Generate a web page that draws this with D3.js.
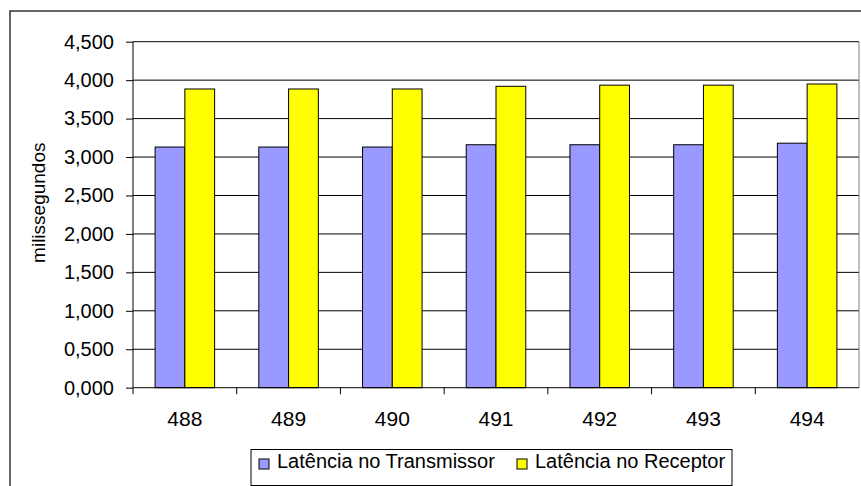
<!DOCTYPE html>
<html>
<head>
<meta charset="utf-8">
<script src="https://cdn.jsdelivr.net/npm/d3@7"></script>
<style>
  html, body { margin: 0; padding: 0; background: #fff; }
  svg { display: block; font-family: "Liberation Sans", Arial, sans-serif; }
</style>
</head>
<body>
<svg id="chart" width="861" height="486"></svg>
<script>
// Latência medida por pacote (milissegundos)
const categories = ["488", "489", "490", "491", "492", "493", "494"];
const seriesNames = ["Latência no Transmissor", "Latência no Receptor"];
const transmissor = [3.13, 3.13, 3.13, 3.16, 3.16, 3.16, 3.18];
const receptor = [3.885, 3.885, 3.885, 3.92, 3.935, 3.935, 3.95];
const yTicks = [0, 0.5, 1, 1.5, 2, 2.5, 3, 3.5, 4, 4.5];
const colors = ["#9999FF", "#FFFF00"];
const yTitle = "milissegundos";

const svg = d3.select("#chart");

// número com vírgula decimal: 4,500
const ptBR = d3.formatLocale({ decimal: ",", thousands: ".", grouping: [3], currency: ["R$", ""] });
const fmt = ptBR.format(".3f");

const plot = { left: 133, right: 859, top: 41.7, bottom: 387.7 };

const x = d3.scaleBand().domain(categories).range([plot.left, plot.right]).paddingInner(0).paddingOuter(0);
const y = d3.scaleLinear().domain([0, 4.5]).range([plot.bottom, plot.top]);

// moldura externa do gráfico
svg.append("rect")
  .attr("x", 10).attr("y", 11)
  .attr("width", 900).attr("height", 500)
  .attr("fill", "#fff").attr("stroke", "#333").attr("stroke-width", 1.5);

// linhas de grade
svg.append("g").selectAll("line").data(yTicks.filter(d => d > 0)).join("line")
  .attr("x1", plot.left).attr("x2", plot.right)
  .attr("y1", d => y(d)).attr("y2", d => y(d))
  .attr("stroke", "#000").attr("stroke-width", 1);

// borda direita da área de plotagem
svg.append("line")
  .attr("x1", plot.right).attr("x2", plot.right)
  .attr("y1", plot.top).attr("y2", plot.bottom)
  .attr("stroke", "#808080").attr("stroke-width", 1);

// barras
const barW = x.bandwidth() * 0.287;
const rows = categories.map((c, i) => ({ c, vals: [transmissor[i], receptor[i]] }));
const groups = svg.append("g").selectAll("g").data(rows).join("g")
  .attr("transform", d => `translate(${x(d.c) + x.bandwidth() / 2 - barW},0)`);
groups.selectAll("rect").data(d => d.vals).join("rect")
  .attr("x", (d, j) => j * barW)
  .attr("y", d => y(d))
  .attr("width", barW)
  .attr("height", d => y(0) - y(d))
  .attr("fill", (d, j) => colors[j])
  .attr("stroke", "#000").attr("stroke-width", 1);

// eixo Y
const yAxis = d3.axisLeft(y).tickValues(yTicks).tickFormat(fmt).tickSize(7).tickPadding(12);
const gy = svg.append("g").attr("transform", `translate(${plot.left},0)`).call(yAxis);
gy.select(".domain").remove();
gy.append("line").attr("x1", 0).attr("x2", 0).attr("y1", plot.top).attr("y2", plot.bottom + 6.5)
  .attr("stroke", "#000");
gy.selectAll(".tick line").attr("stroke", "#000");
gy.selectAll(".tick text").attr("fill", "#000")
  .style("font-size", "20px").style("font-family", "'Liberation Sans', Arial, sans-serif");

// eixo X
const xAxis = d3.axisBottom(x).tickSize(0).tickPadding(23);
const gx = svg.append("g").attr("transform", `translate(0,${plot.bottom})`).call(xAxis);
gx.select(".domain").attr("d", `M${plot.left},0H${plot.right}`).attr("stroke", "#000");
gx.selectAll(".tick text").attr("fill", "#000")
  .style("font-size", "21px").style("font-family", "'Liberation Sans', Arial, sans-serif");
// marcas entre categorias
gx.append("g").selectAll("line").data(categories.slice(1)).join("line")
  .attr("x1", d => x(d)).attr("x2", d => x(d))
  .attr("y1", 0).attr("y2", 6.5)
  .attr("stroke", "#000");

// título do eixo Y
svg.append("text")
  .attr("transform", `translate(45,${(plot.top + plot.bottom) / 2 - 12}) rotate(-90)`)
  .attr("text-anchor", "middle")
  .style("font-size", "19px")
  .text(yTitle);

// legenda
const legend = svg.append("g");
legend.append("rect")
  .attr("x", 251).attr("y", 449.5).attr("width", 481).attr("height", 36)
  .attr("fill", "#fff").attr("stroke", "#000").attr("stroke-width", 1);
const legendX = [259, 517];
const items = legend.selectAll("g.item").data(seriesNames).join("g")
  .attr("class", "item")
  .attr("transform", (d, i) => `translate(${legendX[i]},459)`);
items.append("rect")
  .attr("width", 10).attr("height", 10)
  .attr("fill", (d, i) => colors[i])
  .attr("stroke", "#000").attr("stroke-width", 1);
items.append("text")
  .attr("x", 18).attr("y", 8.5)
  .style("font-size", "20px")
  .text(d => d);
</script>
</body>
</html>
